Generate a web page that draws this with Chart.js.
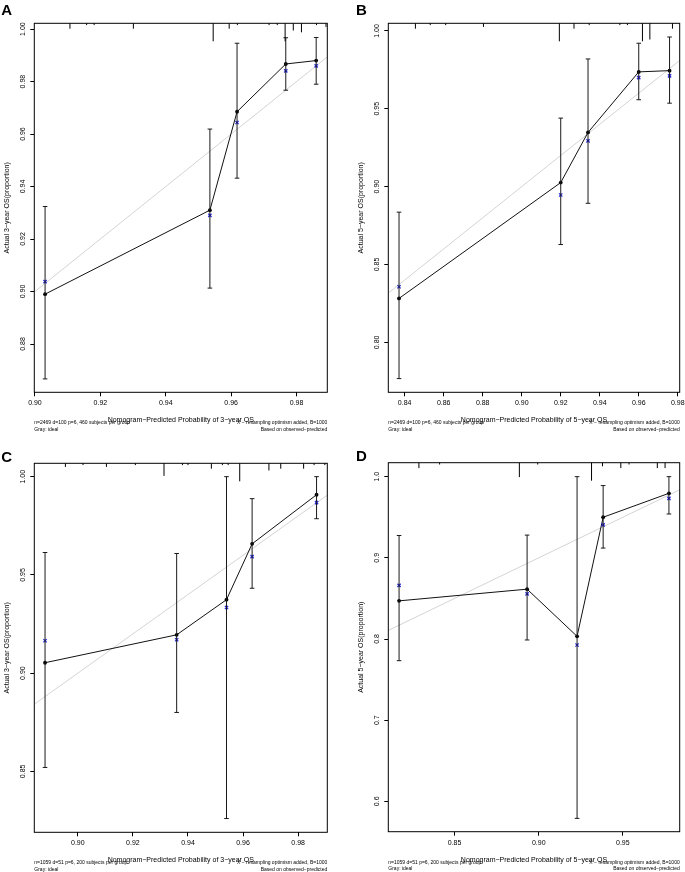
<!DOCTYPE html>
<html>
<head>
<meta charset="utf-8">
<script src="https://cdn.jsdelivr.net/npm/chart.js@4.4.1/dist/chart.umd.min.js"></script>
<style>
  html, body { margin: 0; padding: 0; background: #fff; }
  #page { position: relative; width: 685px; height: 872px; overflow: hidden; background: #fff; }
  canvas { position: absolute; }
</style>
</head>
<body>
<div id="page">
  <canvas id="chartA" width="342" height="436" style="left:0;top:0;width:342px;height:436px"></canvas>
  <canvas id="chartB" width="343" height="436" style="left:342px;top:0;width:343px;height:436px"></canvas>
  <canvas id="chartC" width="342" height="436" style="left:0;top:436px;width:342px;height:436px"></canvas>
  <canvas id="chartD" width="343" height="436" style="left:342px;top:436px;width:343px;height:436px"></canvas>
</div>
<script>
const FONT = "'Liberation Sans', Arial, Helvetica, sans-serif";
const RUG_UNIT = 1.8; // px per unit of rug frequency

// ---- A: 3-year OS, n=2469
const aPredicted = [0.9031, 0.9535, 0.9618, 0.9767, 0.9860];
const aObserved  = [0.8990, 0.9310, 0.9685, 0.9867, 0.9880];
const aLower     = [0.8667, 0.9013, 0.9432, 0.9767, 0.9790];
const aUpper     = [0.9324, 0.9619, 0.9946, 0.9967, 0.9968];
const aCorrected = [0.9038, 0.9290, 0.9644, 0.9841, 0.9860];
const aRugX    = [0.9107, 0.9158, 0.9181, 0.9301, 0.9545, 0.9594, 0.9619, 0.9716, 0.9741, 0.9765, 0.9790, 0.9815, 0.9861, 0.9890];
const aRugFreq = [3, 1, 1, 3, 10, 3, 1, 1, 1, 10, 4, 5, 1, 2];
const aXRange = [0.8998, 0.9894];
const aYRange = [0.8616, 1.0022];
const aXTicks = [0.90, 0.92, 0.94, 0.96, 0.98];
const aYTicks = [0.88, 0.90, 0.92, 0.94, 0.96, 0.98, 1.00];

// ---- B: 5-year OS, n=2469
const bPredicted = [0.8371, 0.9200, 0.9340, 0.9600, 0.9758];
const bObserved  = [0.8282, 0.9026, 0.9348, 0.9737, 0.9745];
const bLower     = [0.7767, 0.8628, 0.8893, 0.9558, 0.9536];
const bUpper     = [0.8836, 0.9440, 0.9820, 0.9921, 0.9961];
const bCorrected = [0.8357, 0.8946, 0.9294, 0.9700, 0.9711];
const bRugX    = [0.8455, 0.8531, 0.8610, 0.8804, 0.9193, 0.9268, 0.9346, 0.9503, 0.9542, 0.9619, 0.9657, 0.9773];
const bRugFreq = [3, 1, 1, 2, 10, 3, 1, 1, 1, 10, 9, 3];
const bXRange = [0.8316, 0.9810];
const bYRange = [0.7679, 1.0049];
const bXTicks = [0.84, 0.86, 0.88, 0.90, 0.92, 0.94, 0.96, 0.98];
const bYTicks = [0.80, 0.85, 0.90, 0.95, 1.00];

// ---- C: 3-year OS, n=1059
const cPredicted = [0.8881, 0.9359, 0.9540, 0.9633, 0.9867];
const cObserved  = [0.9053, 0.9195, 0.9374, 0.9658, 0.9908];
const cLower     = [0.8520, 0.8800, 0.8260, 0.9432, 0.9786];
const cUpper     = [0.9614, 0.9609, 1.0000, 0.9888, 1.0000];
const cCorrected = [0.9165, 0.9170, 0.9334, 0.9593, 0.9868];
const cRugX    = [0.8955, 0.9019, 0.9104, 0.9209, 0.9313, 0.9380, 0.9400, 0.9485, 0.9525, 0.9546, 0.9588, 0.9694, 0.9737, 0.9820, 0.9858, 0.9897];
const cRugFreq = [2, 1, 2, 1, 7, 1, 1, 3, 1, 1, 10, 4, 3, 3, 1, 1];
const cXRange = [0.8842, 0.9906];
const cYRange = [0.8190, 1.0068];
const cXTicks = [0.90, 0.92, 0.94, 0.96, 0.98];
const cYTicks = [0.85, 0.90, 0.95, 1.00];

// ---- D: 5-year OS, n=1059
const dPredicted = [0.8170, 0.8931, 0.9228, 0.9383, 0.9774];
const dObserved  = [0.8470, 0.8614, 0.8033, 0.9500, 0.9795];
const dLower     = [0.7733, 0.7988, 0.5790, 0.9120, 0.9540];
const dUpper     = [0.9275, 0.9280, 1.0000, 0.9890, 1.0000];
const dCorrected = [0.8660, 0.8556, 0.7926, 0.9407, 0.9733];
const dRugX    = [0.8288, 0.8411, 0.8885, 0.8994, 0.9314, 0.9379, 0.9488, 0.9537, 0.9705, 0.9751];
const dRugFreq = [3, 1, 8, 1, 10, 2, 3, 1, 3, 3];
const dXRange = [0.8106, 0.9838];
const dYRange = [0.5626, 1.0172];
const dXTicks = [0.85, 0.90, 0.95];
const dYTicks = [0.6, 0.7, 0.8, 0.9, 1.0];

const noteTrain = "n=2469 d=100 p=6, 460 subjects per group";
const noteValid = "n=1059 d=51 p=6, 200 subjects per group";

Chart.defaults.font.family = FONT;
Chart.defaults.color = "#000";

const calibDecor = {
  id: "calibDecor",
  afterDatasetsDraw(chart, args, opts) {
    const p = opts.panel;
    const { ctx, chartArea: area } = chart;
    const x = chart.scales.x, y = chart.scales.y;
    ctx.save();
    ctx.lineWidth = 1;

    // error bars
    ctx.strokeStyle = "#1a1a1a";
    p.predicted.forEach((v, i) => {
      const px = x.getPixelForValue(v);
      const top = y.getPixelForValue(p.upper[i]);
      const bot = y.getPixelForValue(p.lower[i]);
      ctx.beginPath();
      ctx.moveTo(px, top); ctx.lineTo(px, bot);
      ctx.moveTo(px - 2.3, top); ctx.lineTo(px + 2.3, top);
      ctx.moveTo(px - 2.3, bot); ctx.lineTo(px + 2.3, bot);
      ctx.stroke();
    });

    // distribution of predicted values along the top
    ctx.strokeStyle = "#000";
    p.rugX.forEach((v, i) => {
      const px = x.getPixelForValue(v);
      ctx.beginPath();
      ctx.moveTo(px, area.top);
      ctx.lineTo(px, area.top + p.rugFreq[i] * RUG_UNIT);
      ctx.stroke();
    });

    ctx.strokeRect(area.left, area.top, area.right - area.left, area.bottom - area.top);
    ctx.restore();
  },
  afterDraw(chart, args, opts) {
    const p = opts.panel;
    const { ctx, chartArea: area } = chart;
    const cx = (area.left + area.right) / 2;
    const cy = (area.top + area.bottom) / 2;
    ctx.save();
    ctx.fillStyle = "#000";

    ctx.font = "7px " + FONT;
    ctx.textAlign = "center";
    ctx.textBaseline = "middle";
    ctx.fillText(p.xTitle, cx, area.bottom + 28);

    ctx.save();
    ctx.translate(area.left - 27.4, cy);
    ctx.rotate(-Math.PI / 2);
    ctx.fillText(p.yTitle, 0, 0);
    ctx.restore();

    ctx.font = "5px " + FONT;
    ctx.textAlign = "left";
    ctx.fillText(p.note, area.left, area.bottom + 30.5);
    ctx.fillText("Gray: ideal", area.left, area.bottom + 37);
    ctx.textAlign = "right";
    ctx.fillText("X \u2212 resampling optimism added, B=1000", area.right, area.bottom + 30.5);
    ctx.fillText("Based on observed\u2212predicted", area.right, area.bottom + 37);

    ctx.font = "bold 15px " + FONT;
    ctx.textAlign = "center";
    ctx.fillText(p.letter, p.letterX, p.letterY);
    ctx.restore();
  }
};

function buildChart(id, p) {
  const pts = (xs, ys) => xs.map((v, i) => ({ x: v, y: ys[i] }));
  return new Chart(document.getElementById(id), {
    type: "line",
    data: {
      datasets: [
        {
          label: "Ideal",
          data: [{ x: p.xRange[0], y: p.xRange[0] }, { x: p.xRange[1], y: p.xRange[1] }],
          borderColor: "#d4d4d4",
          borderWidth: 1,
          pointRadius: 0,
          order: 3
        },
        {
          label: "Apparent",
          data: pts(p.predicted, p.observed),
          borderColor: "#111",
          backgroundColor: "#000",
          borderWidth: 1,
          pointRadius: 1.9,
          pointBorderWidth: 0,
          order: 2
        },
        {
          label: "Bias-corrected",
          data: pts(p.predicted, p.corrected),
          showLine: false,
          pointStyle: "crossRot",
          pointRadius: 2.3,
          pointBorderWidth: 1.3,
          borderColor: "#2626d9",
          order: 1
        }
      ]
    },
    options: {
      responsive: false,
      devicePixelRatio: 1,
      animation: false,
      layout: { padding: { left: 0, top: p.top, right: p.padRight, bottom: 0 } },
      plugins: {
        legend: { display: false },
        tooltip: { enabled: false },
        calibDecor: { panel: p }
      },
      scales: {
        x: {
          type: "linear",
          min: p.xRange[0],
          max: p.xRange[1],
          afterBuildTicks: s => { s.ticks = p.xTicks.map(v => ({ value: v })); },
          afterFit: s => { s.height = p.xAxisH; s.paddingLeft = 0; s.paddingRight = 0; },
          grid: { drawOnChartArea: false, tickLength: 4, color: "#000", tickWidth: 1 },
          border: { display: false },
          ticks: { color: "#000", font: { size: 7 }, padding: 3, maxRotation: 0, autoSkip: false,
                   callback: v => v.toFixed(p.xDec) }
        },
        y: {
          type: "linear",
          min: p.yRange[0],
          max: p.yRange[1],
          afterBuildTicks: s => { s.ticks = p.yTicks.map(v => ({ value: v })); },
          afterFit: s => { s.width = p.left; s.paddingTop = 0; s.paddingBottom = 0; },
          grid: { drawOnChartArea: false, tickLength: 4, color: "#000", tickWidth: 1 },
          border: { display: false },
          ticks: { color: "#000", font: { size: 7 }, padding: p.yPad, minRotation: 90, maxRotation: 90,
                   crossAlign: "center", autoSkip: false, callback: v => v.toFixed(p.yDec) }
        }
      }
    },
    plugins: [calibDecor]
  });
}

buildChart("chartA", {
  letter: "A", letterX: 6.7, letterY: 10.5,
  left: 34.3, top: 23.3, padRight: 14.7, xAxisH: 43.7, yPad: 0,
  predicted: aPredicted, observed: aObserved, lower: aLower, upper: aUpper, corrected: aCorrected,
  rugX: aRugX, rugFreq: aRugFreq, xRange: aXRange, yRange: aYRange,
  xTicks: aXTicks, yTicks: aYTicks, xDec: 2, yDec: 2,
  xTitle: "Nomogram\u2212Predicted Probability of 3\u2212year OS",
  yTitle: "Actual 3\u2212year OS(proportion)", note: noteTrain
});

buildChart("chartB", {
  letter: "B", letterX: 19.3, letterY: 10.5,
  left: 46.3, top: 23.3, padRight: 5, xAxisH: 43.7, yPad: 0,
  predicted: bPredicted, observed: bObserved, lower: bLower, upper: bUpper, corrected: bCorrected,
  rugX: bRugX, rugFreq: bRugFreq, xRange: bXRange, yRange: bYRange,
  xTicks: bXTicks, yTicks: bYTicks, xDec: 2, yDec: 2,
  xTitle: "Nomogram\u2212Predicted Probability of 5\u2212year OS",
  yTitle: "Actual 5\u2212year OS(proportion)", note: noteTrain
});

buildChart("chartC", {
  letter: "C", letterX: 6.7, letterY: 21.5,
  left: 34.3, top: 27.3, padRight: 14.7, xAxisH: 39.7, yPad: 0,
  predicted: cPredicted, observed: cObserved, lower: cLower, upper: cUpper, corrected: cCorrected,
  rugX: cRugX, rugFreq: cRugFreq, xRange: cXRange, yRange: cYRange,
  xTicks: cXTicks, yTicks: cYTicks, xDec: 2, yDec: 2,
  xTitle: "Nomogram\u2212Predicted Probability of 3\u2212year OS",
  yTitle: "Actual 3\u2212year OS(proportion)", note: noteValid
});

buildChart("chartD", {
  letter: "D", letterX: 19.3, letterY: 21,
  left: 46.3, top: 26.7, padRight: 4.3, xAxisH: 40.3, yPad: 2,
  predicted: dPredicted, observed: dObserved, lower: dLower, upper: dUpper, corrected: dCorrected,
  rugX: dRugX, rugFreq: dRugFreq, xRange: dXRange, yRange: dYRange,
  xTicks: dXTicks, yTicks: dYTicks, xDec: 2, yDec: 1,
  xTitle: "Nomogram\u2212Predicted Probability of 5\u2212year OS",
  yTitle: "Actual 5\u2212year OS(proportion)", note: noteValid
});
</script>
</body>
</html>
